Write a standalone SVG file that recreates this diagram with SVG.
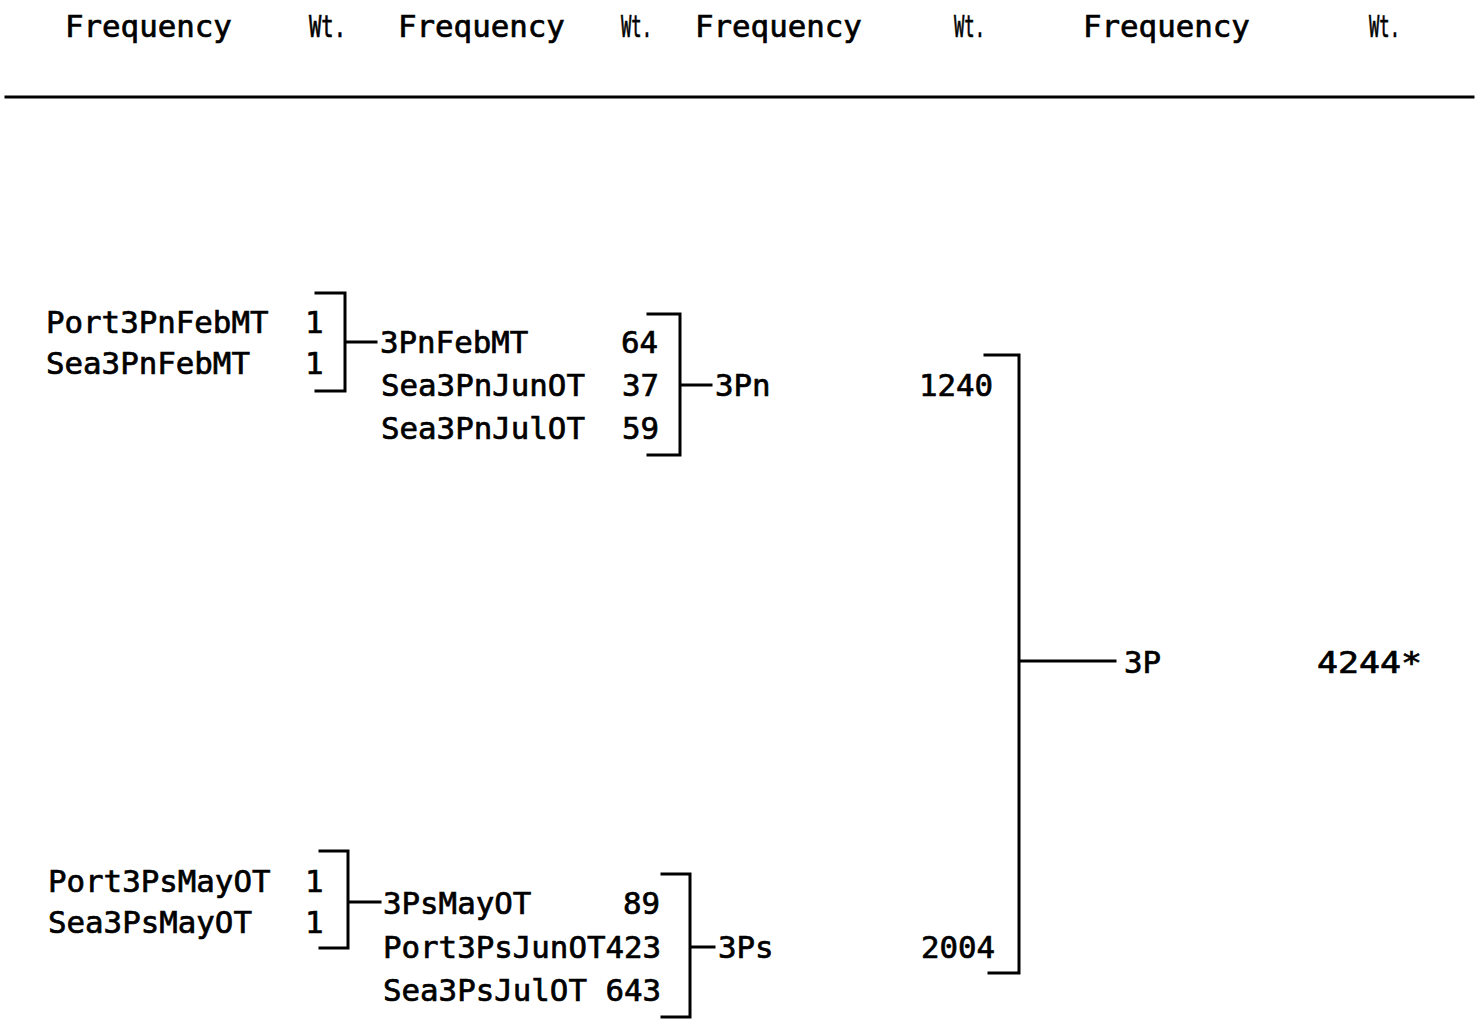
<svg xmlns="http://www.w3.org/2000/svg" width="1475" height="1023" viewBox="0 0 1475 1023">
<style>
text{font-family:"DejaVu Sans Mono","Liberation Mono",monospace;font-size:30.8px;fill:#000;stroke:#000;stroke-width:0.7}
.ln{stroke:#000;stroke-width:3;fill:none;stroke-linecap:square}
</style>
<rect width="1475" height="1023" fill="#fff"/>
<g id="header">
<text x="65" y="37">Frequency</text>
<text x="309" y="37" textLength="37" lengthAdjust="spacingAndGlyphs">Wt.</text>
<text x="398" y="37">Frequency</text>
<text x="621" y="37" textLength="31" lengthAdjust="spacingAndGlyphs">Wt.</text>
<text x="695" y="37">Frequency</text>
<text x="954" y="37" textLength="31" lengthAdjust="spacingAndGlyphs">Wt.</text>
<text x="1083" y="37">Frequency</text>
<text x="1369" y="37" textLength="31" lengthAdjust="spacingAndGlyphs">Wt.</text>
<line class="ln" x1="6" y1="97" x2="1473" y2="97"/>
</g>
<g id="connectors">
<path class="ln" d="M316,293 H345 V391 H316 M345,342 H376"/>
<path class="ln" d="M648,314 H680 V455 H648 M680,385 H711"/>
<path class="ln" d="M320,851 H348 V948 H320 M348,902 H380"/>
<path class="ln" d="M662,874 H690 V1017 H662 M690,947 H714"/>
<path class="ln" d="M985,355 H1019 V973 H989 M1019,661 H1115"/>
</g>
<g id="n-port3pnfebmt"><text x="46" y="333">Port3PnFebMT</text><text x="305" y="333">1</text></g>
<g id="n-sea3pnfebmt"><text x="46" y="374">Sea3PnFebMT</text><text x="305" y="374">1</text></g>
<g id="n-3pnfebmt"><text x="380" y="353">3PnFebMT</text><text x="621" y="353">64</text></g>
<g id="n-sea3pnjunot"><text x="381" y="396">Sea3PnJunOT</text><text x="622" y="396">37</text></g>
<g id="n-sea3pnjulot"><text x="381" y="439">Sea3PnJulOT</text><text x="622" y="439">59</text></g>
<g id="n-3pn"><text x="715" y="396">3Pn</text><text x="919" y="396">1240</text></g>
<g id="n-3p"><text x="1124" y="673">3P</text><text x="1317" y="673" textLength="105" lengthAdjust="spacingAndGlyphs">4244*</text></g>
<g id="n-port3psmayot"><text x="48" y="892">Port3PsMayOT</text><text x="305" y="892">1</text></g>
<g id="n-sea3psmayot"><text x="48" y="933">Sea3PsMayOT</text><text x="305" y="933">1</text></g>
<g id="n-3psmayot"><text x="383" y="914">3PsMayOT</text><text x="623" y="914">89</text></g>
<g id="n-port3psjunot"><text x="383" y="958">Port3PsJunOT423</text></g>
<g id="n-sea3psjulot"><text x="383" y="1001">Sea3PsJulOT 643</text></g>
<g id="n-3ps"><text x="718" y="958">3Ps</text><text x="921" y="958">2004</text></g>
</svg>
